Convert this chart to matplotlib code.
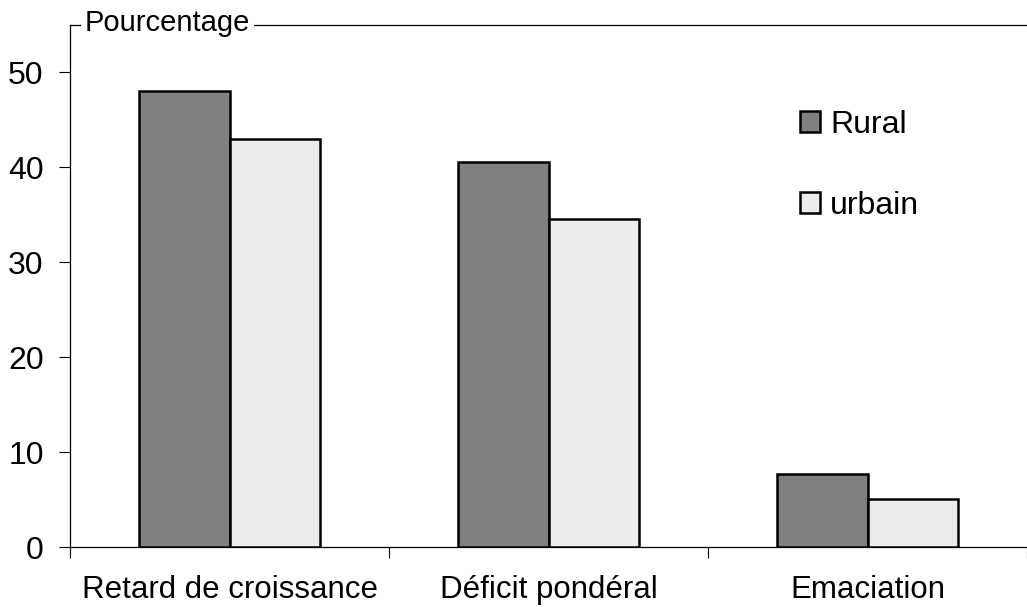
import matplotlib.pyplot as plt
from matplotlib.patches import Patch

categories = ["Retard de croissance", "Déficit pondéral", "Emaciation"]
rural = [48.0, 40.5, 7.7]
urbain = [43.0, 34.5, 5.1]
series_names = ["Rural", "urbain"]
yticks = [0, 10, 20, 30, 40, 50]

plt.rcParams["font.family"] = ["Liberation Sans", "DejaVu Sans"]

fig = plt.figure(figsize=(10.27, 6.07), dpi=100)
ax = fig.add_axes([0.0682, 0.0988, 0.9318, 0.86])

w = 0.285
x = [i + 0.5 for i in range(len(categories))]
ax.bar([p - w / 2 for p in x], rural, width=w, color="#808080",
       edgecolor="black", linewidth=1.8, zorder=3)
ax.bar([p + w / 2 for p in x], urbain, width=w, color="#ebebeb",
       edgecolor="black", linewidth=1.8, zorder=3)

ax.set_xlim(0, 3)
ax.set_ylim(0, 54.95)
ax.set_yticks(yticks)
ax.set_yticklabels([str(v) for v in yticks], fontsize=23)
ax.tick_params(axis="y", length=8, width=0.8, pad=11)

# category boundaries carry the tick marks, names sit between them
ax.set_xticks([0, 1, 2, 3])
ax.set_xticklabels([])
ax.set_xticks(x, minor=True)
ax.set_xticklabels(categories, minor=True, fontsize=22.5)
ax.tick_params(axis="x", which="major", length=8, width=0.8)
ax.tick_params(axis="x", which="minor", length=0, pad=20)

for side in ["left", "bottom", "top"]:
    ax.spines[side].set_linewidth(0.9)
ax.spines["right"].set_visible(False)

ax.text(0.0155, 1 - 6 / 522, "Pourcentage", transform=ax.transAxes,
        fontsize=21, va="baseline", ha="left",
        bbox=dict(facecolor="white", edgecolor="none", pad=3))

handles = [Patch(facecolor="#808080", edgecolor="black", linewidth=1.8),
           Patch(facecolor="#ebebeb", edgecolor="black", linewidth=1.8)]
ax.legend(handles, series_names, loc="upper left", frameon=False,
          bbox_to_anchor=(0.749, 0.862), fontsize=23, handlelength=0.65,
          handleheight=0.65, handletextpad=0.3, labelspacing=1.6,
          borderaxespad=0.0)

fig.savefig("out.png", dpi=100)
